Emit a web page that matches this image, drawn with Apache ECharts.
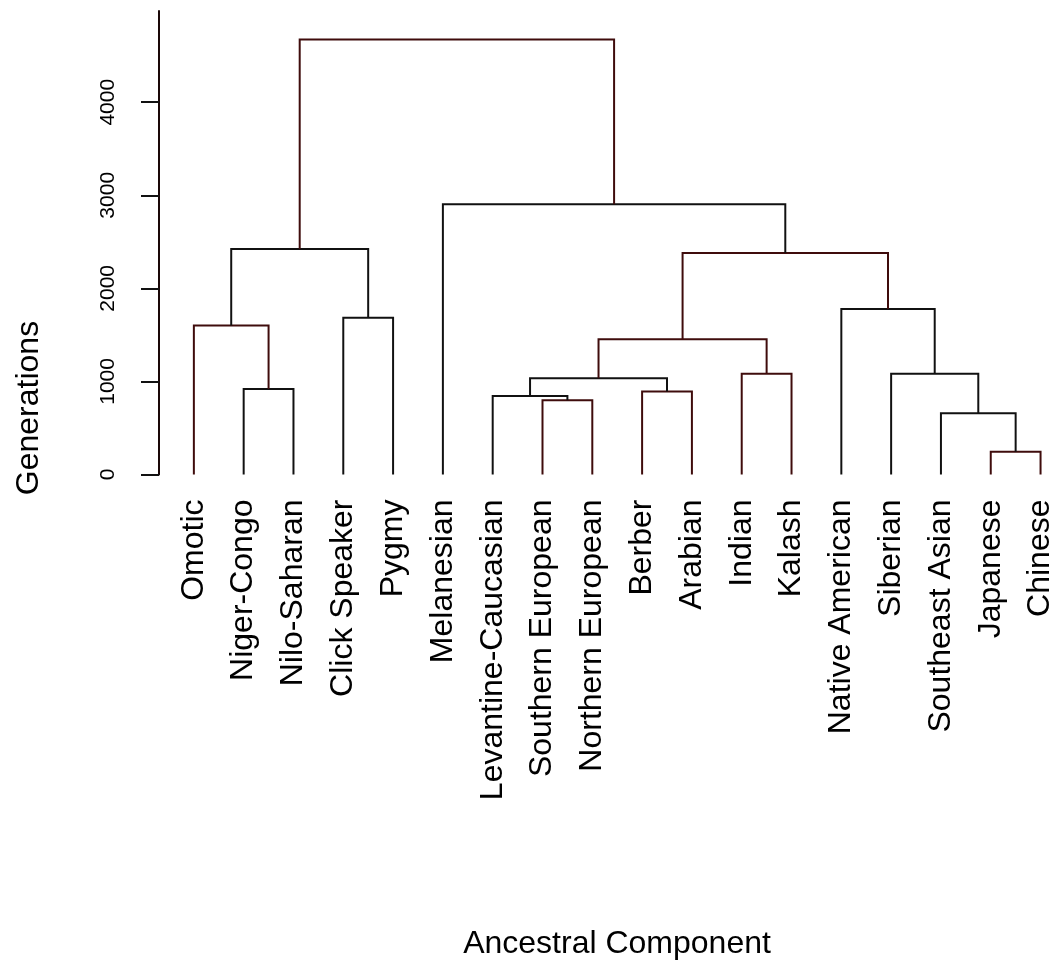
<!DOCTYPE html>
<html>
<head>
<meta charset="utf-8">
<title>Ancestral Component dendrogram</title>
<script src="https://cdn.jsdelivr.net/npm/echarts@6/dist/echarts.min.js"></script>
<style>
html,body{margin:0;padding:0;background:#fff;}
#main{width:1053px;height:962px;}
</style>
</head>
<body>
<div id="main"></div>
<script>
// leaves in plotting order
var leaves = ['Omotic','Niger-Congo','Nilo-Saharan','Click Speaker','Pygmy','Melanesian',
  'Levantine-Caucasian','Southern European','Northern European','Berber','Arabian','Indian',
  'Kalash','Native American','Siberian','Southeast Asian','Japanese','Chinese'];

// merges, hclust style: negative = leaf number, positive = earlier merge number
var mergeLeft   = [-17, -16,  -8,  -7, -10,  -2,    4,  -12,  -15,   7,  -1,  -4,  -14,   10,   11,   -6,   15];
var mergeRight  = [-18,   1,  -9,   3, -11,  -3,    5,  -13,    2,   8,   6,  -5,    9,   13,   12,   14,   16];
var mergeHeight = [245, 657, 797, 843, 893, 918, 1033, 1083, 1083, 1452, 1602, 1684, 1778, 2379, 2422, 2905, 4675];

var yTicks = [0, 1000, 2000, 3000, 4000];

// merges drawn with a dark red tint in the original
var tinted = [1, 3, 5, 8, 10, 11, 14, 17];

var nodeX = [], nodeH = [];
function pos(id){
  if (id < 0) return [-id, 0];
  return [nodeX[id-1], nodeH[id-1]];
}
var segs = [];
for (var i = 0; i < mergeHeight.length; i++) {
  var l = pos(mergeLeft[i]), r = pos(mergeRight[i]), h = mergeHeight[i];
  nodeX[i] = (l[0] + r[0]) / 2;
  nodeH[i] = h;
  segs.push({
    coords: [[l[0], l[1]], [l[0], h], [r[0], h], [r[0], r[1]]],
    lineStyle: {color: tinted.indexOf(i+1) >= 0 ? '#3f0c0c' : '#111'}
  });
}

var xVals = leaves.map(function(d, i){ return i + 1; });
var font = 'Liberation Sans, Arial, sans-serif';

var chart = echarts.init(document.getElementById('main'));
chart.setOption({
  animation: false,
  grid: {left: 159, right: 0, top: 11, bottom: 487.5, containLabel: false, outerBoundsMode: 'none'},
  xAxis: {
    type: 'value', min: 0.3, max: 18.25,
    splitLine: {show: false}, axisLine: {show: false}, axisTick: {show: false},
    axisLabel: {
      customValues: xVals, rotate: 90, margin: 25, fontSize: 32,
      fontFamily: font, color: '#000',
      formatter: function(v){ return leaves[Math.round(v) - 1] || ''; }
    }
  },
  yAxis: {
    type: 'value', min: 0, max: 4980,
    splitLine: {show: false},
    axisLine: {show: true, lineStyle: {color: '#1a0808', width: 2}},
    axisTick: {show: true, customValues: yTicks, length: 18, lineStyle: {color: '#111', width: 2}},
    axisLabel: {
      customValues: yTicks, rotate: 90, margin: 40, color: '#000',
      fontSize: 21, fontFamily: font,
      formatter: function(v){ return String(Math.round(v)); }
    }
  },
  graphic: [
    {type: 'text', x: 29, y: 408, rotation: Math.PI / 2,
     style: {text: 'Generations', font: '32px ' + font, fill: '#000', textAlign: 'center', textVerticalAlign: 'middle'}},
    {type: 'text', x: 617, y: 944,
     style: {text: 'Ancestral Component', font: '32px ' + font, fill: '#000', textAlign: 'center', textVerticalAlign: 'middle'}}
  ],
  series: [{
    type: 'lines', coordinateSystem: 'cartesian2d', polyline: true,
    lineStyle: {width: 2, opacity: 1},
    data: segs
  }]
});
</script>
</body>
</html>
